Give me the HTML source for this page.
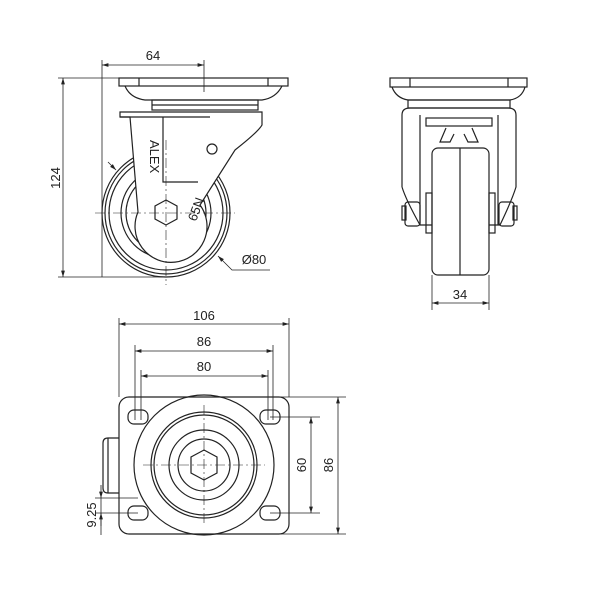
<!DOCTYPE html>
<html><head><meta charset="utf-8"><style>
html,body{margin:0;padding:0;background:#fff}
svg{display:block}
text{font-family:"Liberation Sans",sans-serif;font-size:13px;fill:#222}
</style></head><body>
<svg width="600" height="600" viewBox="0 0 600 600" xmlns="http://www.w3.org/2000/svg">
<defs>
<marker id="a" viewBox="0 0 10 10" refX="10" refY="5" markerWidth="8" markerHeight="8" orient="auto-start-reverse"><path d="M0,2 L10,5 L0,8 z" fill="#222"/></marker>
</defs>
<g fill="none" stroke="#222" stroke-width="1.2">
<!-- ===== Side view ===== -->
<line x1="102" y1="60" x2="102" y2="277" stroke-width="0.8"/>
<line x1="204" y1="60" x2="204" y2="92" stroke-width="0.8"/>
<line x1="102" y1="65" x2="204" y2="65" stroke-width="0.8" marker-start="url(#a)" marker-end="url(#a)"/>
<line x1="58" y1="78" x2="119" y2="78" stroke-width="0.8"/>
<line x1="58" y1="277" x2="166" y2="277" stroke-width="0.8"/>
<line x1="63" y1="78" x2="63" y2="277" stroke-width="0.8" marker-start="url(#a)" marker-end="url(#a)"/>
<rect x="119" y="78" width="169" height="8"/>
<line x1="139" y1="78" x2="139" y2="86"/><line x1="268" y1="78" x2="268" y2="86"/>
<path d="M125,86 Q130,98 145,100 L262,100 Q276,98 282,86"/>
<rect x="152" y="100" width="106" height="10"/>
<line x1="152" y1="105" x2="258" y2="105"/>
<circle cx="166" cy="213" r="64"/>
<circle cx="166" cy="213" r="61"/>
<circle cx="166" cy="213" r="57"/>
<circle cx="166" cy="213" r="45"/>
<circle cx="166" cy="213" r="40"/>
<circle cx="166" cy="213" r="25"/>
<path d="M120,112 L262,112 L262,125 Q258,132 235,150 L200,205 A36,36 0 1 1 138,212 L130,117 L120,117 Z" fill="#fff"/>
<path d="M163,117 L163,182 L198,182"/>
<line x1="120" y1="117" x2="210" y2="117"/>
<circle cx="212" cy="149" r="5"/>
<polygon points="166,200 177,206 177,219 166,225 155,219 155,206" fill="#fff"/>
<line x1="95" y1="213" x2="235" y2="213" stroke-width="0.6" stroke-dasharray="10,3,2,3"/>
<line x1="166" y1="140" x2="166" y2="285" stroke-width="0.6" stroke-dasharray="10,3,2,3"/>
<line x1="108" y1="162" x2="116" y2="170" stroke-width="0.8" marker-end="url(#a)"/>
<path d="M218,256 L232,270 L270,270" stroke-width="0.8" marker-start="url(#a)"/>
<!-- ===== Front view ===== -->
<rect x="390" y="78" width="137" height="9"/>
<line x1="410" y1="78" x2="410" y2="87"/><line x1="508" y1="78" x2="508" y2="87"/>
<path d="M392,87 Q396,98 408,100 L510,100 Q522,98 525,87"/>
<rect x="408" y="100" width="102" height="8"/>
<path d="M402,187 L402,115 Q402,108 410,108 L508,108 Q516,108 516,115 L516,187 Q512,200 500,225 L420,225 Q406,200 402,187"/>
<line x1="420" y1="115" x2="420" y2="225"/><line x1="498" y1="115" x2="498" y2="225"/>
<rect x="426" y="118" width="66" height="8"/>
<path d="M446,128 L440,142 L450,142 L454,134 M472,128 L478,142 L468,142 L464,134"/>
<rect x="432" y="148" width="57" height="127" rx="6" fill="#fff"/>
<line x1="460" y1="148" x2="460" y2="275"/>
<rect x="426" y="193" width="6" height="40"/><rect x="489" y="193" width="6" height="40"/>
<rect x="405" y="202" width="15" height="24" rx="3"/><rect x="499" y="202" width="15" height="24" rx="3"/>
<rect x="402" y="206" width="4" height="14"/><rect x="513" y="206" width="4" height="14"/>
<line x1="432" y1="275" x2="432" y2="310" stroke-width="0.8"/>
<line x1="489" y1="275" x2="489" y2="310" stroke-width="0.8"/>
<line x1="432" y1="303" x2="489" y2="303" stroke-width="0.8" marker-start="url(#a)" marker-end="url(#a)"/>
<!-- ===== Top view ===== -->
<g stroke-width="0.8">
<line x1="119" y1="318" x2="119" y2="397"/><line x1="289" y1="318" x2="289" y2="397"/>
<line x1="119" y1="324" x2="289" y2="324" marker-start="url(#a)" marker-end="url(#a)"/>
<line x1="135" y1="345" x2="135" y2="420"/><line x1="273" y1="345" x2="273" y2="420"/>
<line x1="135" y1="351" x2="273" y2="351" marker-start="url(#a)" marker-end="url(#a)"/>
<line x1="141" y1="370" x2="141" y2="420"/><line x1="268" y1="370" x2="268" y2="420"/>
<line x1="141" y1="376" x2="268" y2="376" marker-start="url(#a)" marker-end="url(#a)"/>
<line x1="280" y1="397" x2="346" y2="397"/><line x1="280" y1="534" x2="346" y2="534"/>
<line x1="338" y1="397" x2="338" y2="534" marker-start="url(#a)" marker-end="url(#a)"/>
<line x1="270" y1="417" x2="320" y2="417"/><line x1="270" y1="513" x2="320" y2="513"/>
<line x1="311" y1="417" x2="311" y2="513" marker-start="url(#a)" marker-end="url(#a)"/>
<line x1="95" y1="498" x2="138" y2="498"/><line x1="95" y1="513" x2="138" y2="513"/>
<line x1="101" y1="485" x2="101" y2="498" marker-end="url(#a)"/>
<line x1="101" y1="526" x2="101" y2="513" marker-end="url(#a)"/>
<line x1="101" y1="498" x2="101" y2="535"/>
</g>
<rect x="119" y="397" width="170" height="137" rx="10"/>
<path d="M119,438 L108,438 Q103,438 103,443 L103,488 Q103,493 108,493 L119,493"/>
<line x1="108" y1="438" x2="108" y2="493"/>
<rect x="128" y="410" width="20" height="14" rx="6"/><rect x="260" y="410" width="20" height="14" rx="6"/>
<rect x="128" y="506" width="20" height="14" rx="6"/><rect x="260" y="506" width="20" height="14" rx="6"/>
<circle cx="204" cy="465" r="70"/>
<circle cx="204" cy="465" r="53"/>
<circle cx="204" cy="465" r="50"/>
<circle cx="204" cy="465" r="35"/>
<circle cx="204" cy="465" r="26"/>
<polygon points="204,450 217,457 217,473 204,480 191,473 191,457"/>
<line x1="143" y1="465" x2="265" y2="465" stroke-width="0.6" stroke-dasharray="10,3,2,3"/>
<line x1="204" y1="405" x2="204" y2="525" stroke-width="0.6" stroke-dasharray="10,3,2,3"/>
</g>
<text x="153" y="60" text-anchor="middle">64</text>
<text transform="translate(60,178) rotate(-90)" text-anchor="middle">124</text>
<text x="254" y="264" text-anchor="middle">Ø80</text>
<text x="460" y="299" text-anchor="middle">34</text>
<text x="204" y="320" text-anchor="middle">106</text>
<text x="204" y="346" text-anchor="middle">86</text>
<text x="204" y="371" text-anchor="middle">80</text>
<text transform="translate(306,465) rotate(-90)" text-anchor="middle">60</text>
<text transform="translate(333,465) rotate(-90)" text-anchor="middle">86</text>
<text transform="translate(96,515) rotate(-90)" text-anchor="middle">9.25</text>
<g style="font-size:8px">
<text transform="translate(150,140) rotate(90)">ALEX</text>
<text transform="translate(196,222) rotate(-70)">65N</text>
</g>
</svg>
</body></html>
